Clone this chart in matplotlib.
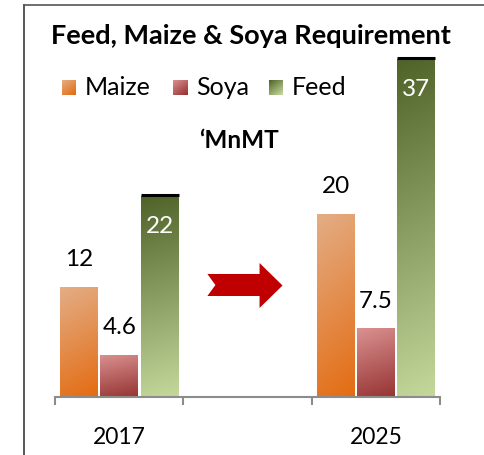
import numpy as np
import matplotlib
matplotlib.use("Agg")
import matplotlib.pyplot as plt
from matplotlib.patches import Polygon
from matplotlib.colors import LinearSegmentedColormap

plt.rcParams["font.family"] = ["Lato", "DejaVu Sans"]

years = ["2017", "", "2025"]
series = ["Maize", "Soya", "Feed"]
maize = [12, None, 20]
soya = [4.6, None, 7.5]
feed = [22, None, 37]
label_text = {"Maize": ["12", "20"], "Soya": ["4.6", "7.5"], "Feed": ["22", "37"]}

# gradient (top colour, bottom colour)
grads = {
    "Maize": ("#E3AD85", "#E46C12"),
    "Soya": ("#D99190", "#963433"),
    "Feed": ("#4F6228", "#C4D89C"),
}

W, H = 485, 456
fig = plt.figure(figsize=(W / 100, H / 100), dpi=100)

# outer frame (left + top only)
fig.add_artist(plt.Line2D([24 / W, 24 / W], [0, 1 - 6 / H], color="#3a3a3a", lw=1.2))
fig.add_artist(plt.Line2D([24 / W, 1], [1 - 6 / H, 1 - 6 / H], color="#555555", lw=1.2))

ax = fig.add_axes([55 / W, (H - 398) / H, 385 / W, 40 * 9.14 / H])
ax.set_xlim(-0.5, 2.5)
ax.set_ylim(0, 40)
for s in ["top", "right", "left"]:
    ax.spines[s].set_visible(False)
ax.spines["bottom"].set_color("#8c8c8c")
ax.spines["bottom"].set_linewidth(1.5)
ax.set_yticks([])
ax.set_xticks([-0.5, 0.5, 1.5, 2.5])
ax.set_xticklabels([])
ax.tick_params(axis="x", which="major", length=6, width=1.5, color="#8c8c8c")
ax.set_xticks([0, 2], minor=True)
ax.set_xticklabels([years[0], years[2]], minor=True, fontsize=16.5)
ax.tick_params(axis="x", which="minor", length=0, pad=21)

offsets = [-0.31, 0.0, 0.315]
bw = 0.295
data = {"Maize": maize, "Soya": soya, "Feed": feed}
for k, name in enumerate(series):
    xs = [i + offsets[k] for i, v in enumerate(data[name]) if v is not None]
    vs = [v for v in data[name] if v is not None]
    bars = ax.bar(xs, vs, width=bw, color="none", edgecolor="none")
    top, bot = grads[name]
    cmap = LinearSegmentedColormap.from_list(name, [top, bot])
    for j, b in enumerate(bars):
        x0, y0 = b.get_x(), b.get_y()
        w, h = b.get_width(), b.get_height()
        gy, gx = np.mgrid[0:1:100j, 0:1:20j]
        g = 0.85 * gy + 0.15 * gx
        if name == "Feed":
            g = 0.95 * gy + 0.05 * gx
        im = ax.imshow(g, cmap=cmap, extent=[x0, x0 + w, y0, y0 + h],
                       aspect="auto", origin="upper", zorder=2)
        im.set_clip_path(b)
        if name == "Feed":
            ax.plot([x0, x0 + w], [h + 0.1, h + 0.1], color="black", lw=2.2,
                    solid_capstyle="butt", zorder=3)
            ax.text(x0 + w / 2, h - 3.2, label_text[name][j], ha="center",
                    va="center", fontsize=17.5, color="white", zorder=4)
        else:
            ax.text(x0 + w / 2, h + 3.1, label_text[name][j], ha="center",
                    va="center", fontsize=17.5, color="black", zorder=4)

# arrow in the middle slot
arrow = Polygon([(0.6875, 13.46), (1.094, 13.46), (1.094, 14.66), (1.273, 12.2),
                 (1.094, 9.74), (1.094, 11.05), (0.6875, 11.05), (0.75, 12.25)],
                closed=True, facecolor="#C00000", edgecolor="none", zorder=3)
ax.add_patch(arrow)
ax.set_xlim(-0.5, 2.5)
ax.set_ylim(0, 40)

fig.text(251 / W, 1 - 36 / H, "Feed, Maize & Soya Requirement", ha="center",
         va="center", fontsize=19.5, fontweight="bold")

# legend
lx = [62, 173, 269]
for k, name in enumerate(series):
    lax = fig.add_axes([lx[k] / W, 1 - 96 / H, 14 / W, 15 / H])
    top, bot = grads[name]
    cmap = LinearSegmentedColormap.from_list(name, [top, bot])
    gy, gx = np.mgrid[0:1:10j, 0:1:10j]
    lax.imshow(0.6 * gy + 0.4 * gx, cmap=cmap, aspect="auto")
    lax.axis("off")
    fig.text((lx[k] + 23) / W, 1 - 88 / H, name, ha="left", va="center", fontsize=18)

fig.text(239 / W, 1 - 141 / H, "\u2018MnMT", ha="center", va="center",
         fontsize=17.5, fontweight="bold")

fig.savefig("out.png", dpi=100)
